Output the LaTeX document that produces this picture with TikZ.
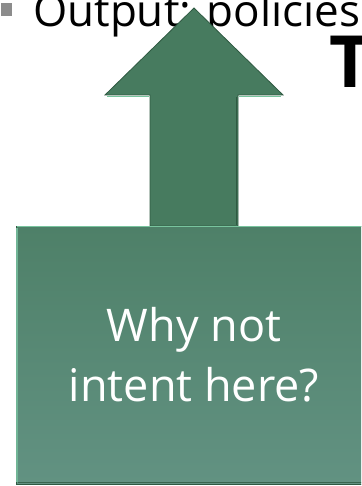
\documentclass[tikz,border=0pt]{standalone}
\usepackage{fontspec}
\setmainfont{Open Sans}
\definecolor{arrowgreen}{HTML}{477B5F}
\definecolor{boxtop}{HTML}{4E8068}
\definecolor{boxbottom}{HTML}{629282}
\definecolor{bevellight}{HTML}{78C49E}
\definecolor{beveldark}{HTML}{2F5A42}
\definecolor{bulletgray}{HTML}{8C8C8C}
\tikzset{
  slidetext/.style={anchor=base west,inner sep=0pt,text=black,
                    font=\fontsize{44}{44}\selectfont},
  titletext/.style={anchor=base,inner sep=0pt,text=black,
                    font=\fontsize{72}{72}\selectfont\bfseries},
  bulletsq/.style={fill=bulletgray,draw=none},
  upblock/.style={fill=arrowgreen,draw=beveldark,line width=0.8pt,
                  line join=miter},
  ledge/.style={draw=bevellight,line width=1.6pt},
  whybox/.style={rectangle,top color=boxtop,bottom color=boxbottom,
                 draw=beveldark,line width=0.9pt,
                 minimum width=356pt,minimum height=258pt,
                 align=center,text=white,inner sep=0pt,
                 font=\fontsize{45}{60}\selectfont}
}
\begin{document}
\begin{tikzpicture}[x=1pt,y=-1pt]
    \path[use as bounding box] (0,0) rectangle (361,486);
    \clip (0,0) rectangle (361,486);
    % slide text behind the shapes
    \fill[bulletsq] (1,3) rectangle (12,16);
    \node[slidetext] (output) at (33,27) {Output: policies};
    \node[titletext] (title) at (350,88) {T};

    % block arrow
    \draw[upblock] (194,8) -- (283,95) -- (238,95) -- (238,226)
      -- (150,226) -- (150,95) -- (105,95) -- cycle;
    \draw[ledge] (107,96.5) -- (149,96.5);
    \draw[ledge] (239,96.5) -- (281,96.5);
    \draw[beveldark,line width=1.6pt] (236.5,97) -- (236.5,225);

    % question box
    \node[whybox] (question) at (194,355) {Why not\\intent here?};
    \draw[bevellight,line width=1.4pt]
      ([xshift=1pt,yshift=-1.2pt]question.north west)
      -- ([xshift=-1pt,yshift=-1.2pt]question.north east);
    \draw[bevellight!70!boxbottom,line width=1.6pt]
      ([xshift=1.5pt,yshift=-2pt]question.north west)
      -- ([xshift=1.5pt,yshift=2pt]question.south west);
    \draw[beveldark!80!boxbottom,line width=1.6pt]
      ([xshift=2pt,yshift=2pt]question.south west)
      -- ([xshift=-2pt,yshift=2pt]question.south east);
  \end{tikzpicture}
\end{document}
